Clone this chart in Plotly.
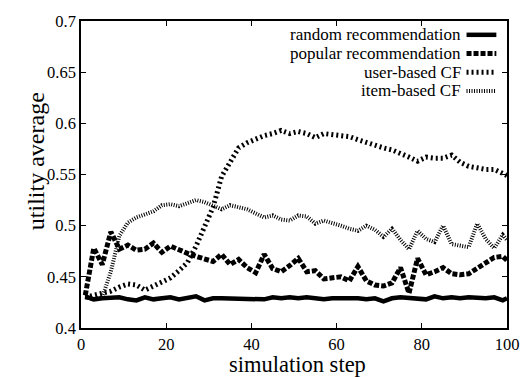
import plotly.graph_objects as go

steps = list(range(1, 100, 2)) + [100]

random_rec = [0.431, 0.428, 0.429, 0.429, 0.430, 0.428, 0.427, 0.430, 0.428, 0.429,
              0.430, 0.428, 0.429, 0.431, 0.427, 0.429, 0.429, 0.429, 0.428, 0.429,
              0.429, 0.428, 0.430, 0.429, 0.430, 0.429, 0.430, 0.429, 0.428, 0.429,
              0.429, 0.430, 0.429, 0.428, 0.429, 0.426, 0.429, 0.430, 0.429, 0.429,
              0.428, 0.431, 0.429, 0.430, 0.429, 0.430, 0.429, 0.429, 0.430, 0.427,
              0.429]

popular_rec = [0.432, 0.478, 0.462, 0.494, 0.477, 0.481, 0.476, 0.477, 0.483, 0.474,
               0.480, 0.476, 0.473, 0.470, 0.468, 0.465, 0.472, 0.462, 0.467, 0.459,
               0.454, 0.472, 0.458, 0.455, 0.461, 0.468, 0.455, 0.456, 0.448, 0.449,
               0.450, 0.446, 0.460, 0.446, 0.442, 0.441, 0.444, 0.459, 0.434, 0.468,
               0.452, 0.455, 0.459, 0.453, 0.452, 0.453, 0.458, 0.463, 0.469, 0.470,
               0.466]

user_cf = [0.430, 0.432, 0.434, 0.436, 0.440, 0.443, 0.442, 0.437, 0.441, 0.445,
           0.449, 0.456, 0.464, 0.480, 0.500, 0.518, 0.548, 0.563, 0.576, 0.581,
           0.585, 0.588, 0.590, 0.593, 0.590, 0.592, 0.590, 0.586, 0.590, 0.589,
           0.588, 0.587, 0.584, 0.581, 0.578, 0.576, 0.574, 0.571, 0.567, 0.563,
           0.567, 0.566, 0.566, 0.569, 0.562, 0.558, 0.556, 0.555, 0.555, 0.551,
           0.549]

item_cf = [0.430, 0.428, 0.430, 0.455, 0.490, 0.503, 0.508, 0.511, 0.514, 0.520,
           0.521, 0.519, 0.522, 0.525, 0.523, 0.520, 0.516, 0.520, 0.518, 0.516,
           0.512, 0.508, 0.510, 0.506, 0.505, 0.510, 0.509, 0.502, 0.505, 0.503,
           0.500, 0.497, 0.495, 0.500, 0.496, 0.489, 0.497, 0.486, 0.477, 0.495,
           0.487, 0.484, 0.500, 0.482, 0.480, 0.479, 0.502, 0.487, 0.478, 0.491,
           0.486]

series_names = ["random recommendation", "popular recommendation", "user-based CF", "item-based CF"]
x_ticks = [0, 20, 40, 60, 80, 100]
y_ticks = [0.4, 0.45, 0.5, 0.55, 0.6, 0.65, 0.7]
y_tick_labels = ["0.4", "0.45", "0.5", "0.55", "0.6", "0.65", "0.7"]

styles = [
    dict(width=4.5, dash="solid"),
    dict(width=5, dash="5px,2px"),
    dict(width=5, dash="2px,3px"),
    dict(width=4, dash="1px,1.5px"),
]
data = [random_rec, popular_rec, user_cf, item_cf]

FONT = "Liberation Serif, Times New Roman, Times, serif"
fig = go.Figure()
for name, ys, st in zip(series_names, data, styles):
    fig.add_trace(go.Scatter(x=steps, y=ys, mode="lines", name=name,
                             line=dict(color="black", width=st["width"], dash=st["dash"]),
                             showlegend=False))

# custom legend (text left of sample, as in the reference)
leg_y = [0.955, 0.894, 0.833, 0.772]
for name, st, yy in zip(series_names, styles, leg_y):
    fig.add_annotation(x=0.894, y=yy, xref="paper", yref="paper", text=name,
                       showarrow=False, xanchor="right", yanchor="middle",
                       borderpad=0,
                       font=dict(family=FONT, size=17, color="black"))
    fig.add_shape(type="line", xref="paper", yref="paper", x0=0.905, x1=0.975, y0=yy, y1=yy,
                  line=dict(color="black", width=st["width"], dash=st["dash"]))

# axis titles
fig.add_annotation(x=0.508, y=-0.163, xref="paper", yref="paper", text="simulation step",
                   showarrow=False, xanchor="center", yanchor="bottom", borderpad=0,
                   font=dict(family=FONT, size=22.5, color="black"))
fig.add_annotation(x=-0.106, y=0.543, xref="paper", yref="paper", text="utility average",
                   showarrow=False, xanchor="center", yanchor="middle", textangle=-90,
                   font=dict(family=FONT, size=24, color="black"))

axis_common = dict(showline=True, linecolor="black", linewidth=1.5, mirror="ticks",
                   ticks="inside", ticklen=5, tickcolor="black", tickwidth=1,
                   showgrid=False, zeroline=False,
                   tickfont=dict(family=FONT, size=16.5, color="black"))

fig.update_layout(
    width=531, height=377,
    margin=dict(l=81, r=17, t=15, b=49),
    plot_bgcolor="white", paper_bgcolor="white",
    font=dict(family=FONT, color="black"),
    xaxis=dict(range=[0, 100], tickvals=x_ticks, **axis_common),
    yaxis=dict(range=[0.4, 0.7], tickvals=y_ticks, ticktext=y_tick_labels, **axis_common),
)

fig.write_html("out.html")
